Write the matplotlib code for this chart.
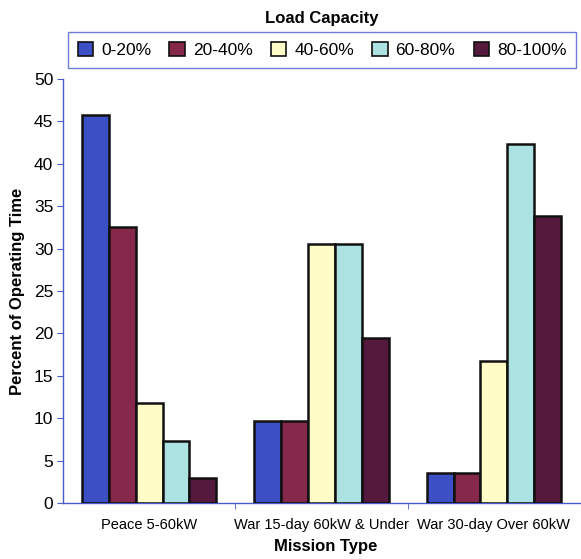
import matplotlib
matplotlib.use("Agg")
import matplotlib.pyplot as plt
import numpy as np
from matplotlib.patches import Patch

categories = ["Peace 5-60kW", "War 15-day 60kW & Under", "War 30-day Over 60kW"]
series_names = ["0-20%", "20-40%", "40-60%", "60-80%", "80-100%"]
values = {
    "0-20%":   [45.8, 9.7, 3.5],
    "20-40%":  [32.5, 9.7, 3.5],
    "40-60%":  [11.8, 30.5, 16.8],
    "60-80%":  [7.3, 30.5, 42.3],
    "80-100%": [2.9, 19.4, 33.8],
}
colors = ["#3d4fc4", "#86284a", "#fffcc8", "#ade2e2", "#55193d"]
yticks = [0, 5, 10, 15, 20, 25, 30, 35, 40, 45, 50]

plt.rcParams['font.family'] = ['Liberation Sans', 'DejaVu Sans']
fig = plt.figure(figsize=(5.81, 5.59), dpi=100)
ax = fig.add_axes([63/581, 1-503/559, (580-63)/581, (503-79)/559])

x = np.arange(len(categories))
bw = 0.156
n = len(series_names)
for i, s in enumerate(series_names):
    ax.bar(x + (i - (n-1)/2) * bw, values[s], width=bw, color=colors[i],
           edgecolor="#111111", linewidth=1.8, zorder=3)

axcol = "#4a5cc8"
ax.set_xlim(-0.5, 2.5)
ax.set_ylim(0, 50)
ax.set_yticks(yticks)
ax.set_yticklabels([str(t) for t in yticks], fontsize=12.5)
ax.set_xticks(x)
ax.set_xticklabels(categories, fontsize=10.5)
ax.set_xticks([0.5, 1.5], minor=True)
ax.tick_params(axis='x', which='major', length=0, pad=11)
ax.tick_params(axis='x', which='minor', length=4, color=axcol, direction='out')
ax.tick_params(axis='y', length=4, color=axcol, direction='out', pad=3)
for sp in ["top", "right"]:
    ax.spines[sp].set_visible(False)
for sp in ["left", "bottom"]:
    ax.spines[sp].set_color(axcol)
    ax.spines[sp].set_linewidth(1.0)

ax.set_ylabel("Percent of Operating Time", fontsize=12, fontweight='bold', labelpad=6)
ax.set_xlabel("Mission Type", fontsize=12, fontweight='bold')
ax.xaxis.set_label_coords((326-63)/(580-63), -(539-503)/(503-79))

handles = [Patch(facecolor=colors[i], edgecolor="#111111", linewidth=1.2) for i in range(n)]
leg = fig.legend(handles, series_names, ncol=5, loc='center',
                 bbox_to_anchor=(322/581, 1-50/559), fontsize=12.5,
                 frameon=True, fancybox=False, edgecolor=axcol,
                 handlelength=0.9, handleheight=0.9, handletextpad=0.45,
                 columnspacing=1.05, borderpad=0.55)
leg.get_frame().set_linewidth(1.0)
fig.text(322/581, 1-18/559, "Load Capacity", ha='center', va='center',
         fontsize=12, fontweight='bold')

fig.savefig("out.png", dpi=100)
